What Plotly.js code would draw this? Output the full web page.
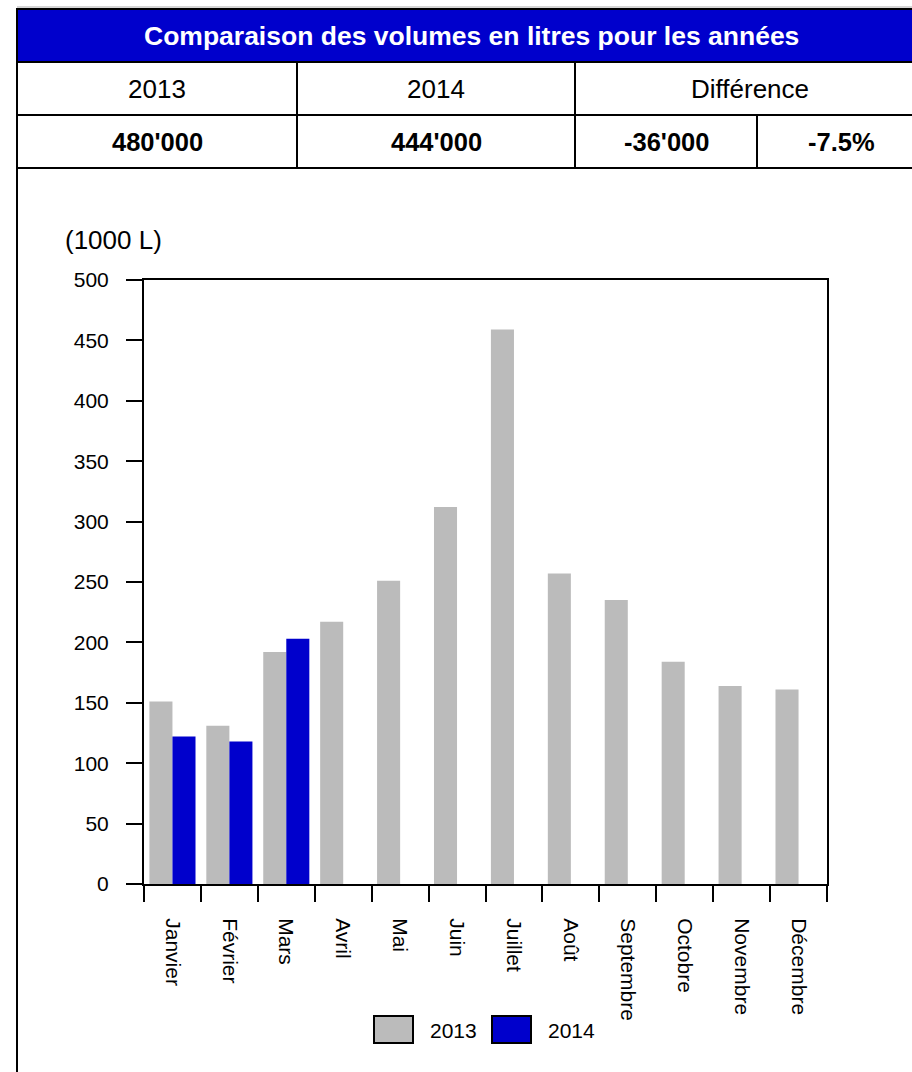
<!DOCTYPE html>
<html>
<head>
<meta charset="utf-8">
<script src="https://cdn.plot.ly/plotly-3.0.1.min.js"></script>
<style>
  html, body { margin: 0; padding: 0; background: #ffffff; }
  #chart { width: 912px; height: 1072px; }
</style>
</head>
<body>
<div id="chart"></div>
<script>
// ---- Data ----
const months = ['Janvier', 'Février', 'Mars', 'Avril', 'Mai', 'Juin', 'Juillet', 'Août', 'Septembre', 'Octobre', 'Novembre', 'Décembre'];
const vol2013 = [151, 131, 192, 217, 251, 312, 459, 257, 235, 184, 164, 161];
const vol2014 = [122, 118, 203, null, null, null, null, null, null, null, null, null];
const seriesNames = ['2013', '2014'];
const tableTitle = 'Comparaison des volumes en litres pour les années';
const tableHeaders = ['2013', '2014', 'Différence'];
const tableValues = ["480'000", "444'000", "-36'000", '-7.5%'];
const unitLabel = '(1000 L)';
const yTicks = [0, 50, 100, 150, 200, 250, 300, 350, 400, 450, 500];

// ---- Layout helpers (pixel -> paper) ----
const W = 912, H = 1072;
const M = { l: 144, r: 912 - 827, t: 280, b: 1072 - 884 };
const PW = W - M.l - M.r, PH = H - M.t - M.b;
const px = x => (x - M.l) / PW;
const py = y => (H - M.b - y) / PH;

const FONT = 'Liberation Sans, Arial, Helvetica, sans-serif';
const BLUE = '#0000CC';
const GREY = '#BBBBBB';

const shapes = [];
const annotations = [];

function line(x0, y0, x1, y1, color, width) {
  shapes.push({ type: 'line', xref: 'paper', yref: 'paper', x0: px(x0), y0: py(y0), x1: px(x1), y1: py(y1),
    line: { color: color || '#000', width: width || 2 }, layer: 'above' });
}
function rect(x0, y0, x1, y1, fill, lineColor, lw) {
  shapes.push({ type: 'rect', xref: 'paper', yref: 'paper', x0: px(x0), y0: py(y0), x1: px(x1), y1: py(y1),
    fillcolor: fill, line: { color: lineColor || '#000', width: lw === undefined ? 2 : lw }, layer: 'above' });
}
function text(t, x, y, size, opts) {
  opts = opts || {};
  annotations.push({ text: t, xref: 'paper', yref: 'paper', x: px(x), y: py(y),
    xanchor: opts.xanchor || 'center', yanchor: 'middle', showarrow: false,
    font: { family: FONT, size: size, color: opts.color || '#000' } });
}

// ---- Table ----
const TL = 17, TR = 925;
line(TL, 7, 912, 7, '#C8C8C8', 1.5);
rect(TL, 9, TR, 62, BLUE, '#000', 2);
line(TL, 115, TR, 115);
line(TL, 168, TR, 168);
line(297, 62, 297, 168);
line(575, 62, 575, 168);
line(757, 115, 757, 168);
line(TL, 9, TL, 1080);

text('<b>' + tableTitle + '</b>', (TL + TR) / 2, 36, 26.5, { color: '#FFFFFF' });
text(tableHeaders[0], (TL + 297) / 2, 89, 26);
text(tableHeaders[1], (297 + 575) / 2, 89, 26);
text(tableHeaders[2], (575 + TR) / 2, 89, 26);
text('<b>' + tableValues[0] + '</b>', (TL + 297) / 2, 142, 25.5);
text('<b>' + tableValues[1] + '</b>', (297 + 575) / 2, 142, 25.5);
text('<b>' + tableValues[2] + '</b>', (575 + 757) / 2, 142, 25.5);
text('<b>' + tableValues[3] + '</b>', (757 + TR) / 2, 142, 25.5);

// ---- Unit label ----
text(unitLabel, 63, 240, 26, { xanchor: 'left' });

// ---- Custom legend ----
rect(374, 1016, 413, 1043, GREY, '#000', 2);
text(seriesNames[0], 428, 1030, 21, { xanchor: 'left' });
rect(492, 1016, 531, 1043, BLUE, '#000', 2);
text(seriesNames[1], 546, 1030, 21, { xanchor: 'left' });

// ---- Traces ----
const traces = [
  { type: 'bar', name: seriesNames[0], x: months, y: vol2013, marker: { color: GREY, line: { width: 0 } } },
  { type: 'bar', name: seriesNames[1], x: months, y: vol2014, marker: { color: BLUE, line: { width: 0 } } }
];

const layout = {
  width: W, height: H,
  margin: M,
  paper_bgcolor: '#FFFFFF',
  plot_bgcolor: '#FFFFFF',
  showlegend: false,
  barmode: 'group',
  bargap: 0.19,
  bargroupgap: 0,
  hovermode: false,
  font: { family: FONT, color: '#000' },
  xaxis: {
    type: 'category',
    categoryorder: 'array', categoryarray: months,
    showline: true, linecolor: '#000', linewidth: 2, mirror: true,
    ticks: 'outside', tickson: 'boundaries', ticklen: 16, tickwidth: 2, tickcolor: '#000',
    tickangle: 90, tickfont: { family: FONT, size: 21, color: '#000' },
    ticklabelstandoff: 28,
    showgrid: false, zeroline: false, fixedrange: true
  },
  yaxis: {
    range: [0, 500],
    tickmode: 'array', tickvals: yTicks, ticktext: yTicks.map(String),
    showline: true, linecolor: '#000', linewidth: 2, mirror: true,
    ticks: 'outside', ticklen: 16, tickwidth: 2, tickcolor: '#000',
    tickfont: { family: FONT, size: 21, color: '#000' },
    ticklabelstandoff: 13,
    showgrid: false, zeroline: false, fixedrange: true
  },
  shapes: shapes,
  annotations: annotations
};

Plotly.newPlot('chart', traces, layout, { displayModeBar: false, staticPlot: true });
</script>
</body>
</html>
